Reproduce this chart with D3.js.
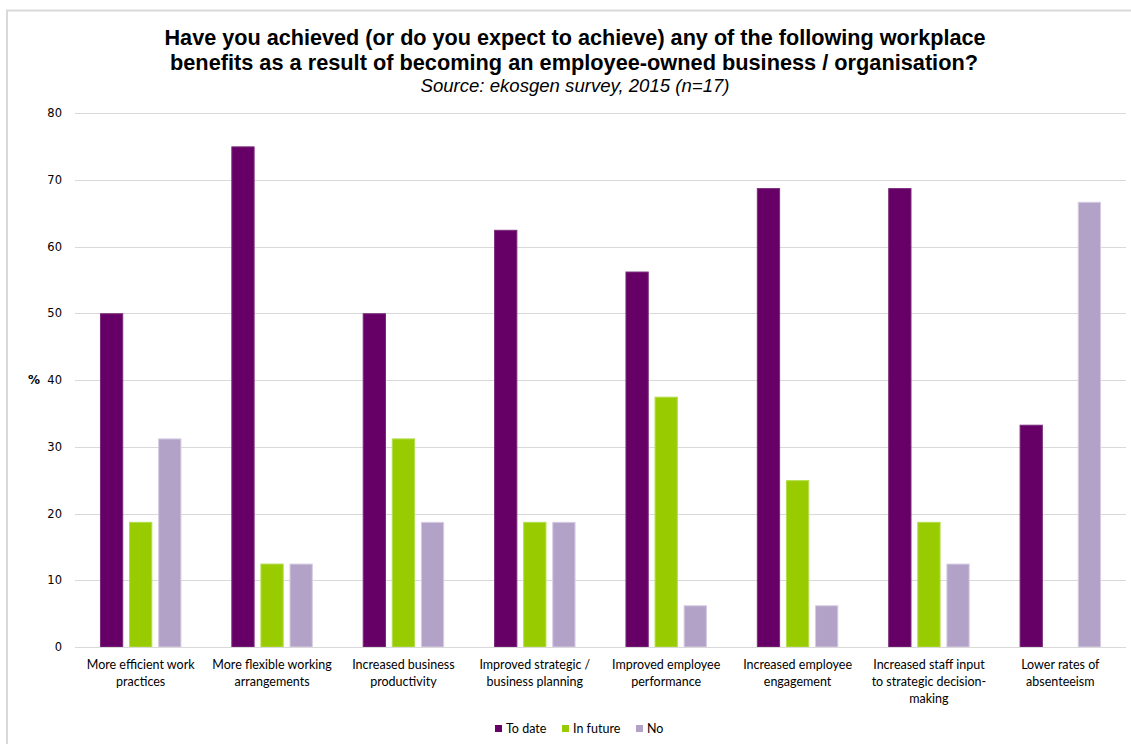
<!DOCTYPE html>
<html>
<head>
<meta charset="utf-8">
<script src="https://cdn.jsdelivr.net/npm/d3@7"></script>
<style>
  html, body { margin: 0; padding: 0; background: #fff; }
  svg { display: block; }
</style>
</head>
<body>
<svg id="chart" width="1131" height="744"></svg>
<script>
// Survey answers, % of respondents per benefit
const categories = [
  ["More efficient work", "practices"],
  ["More flexible working", "arrangements"],
  ["Increased business", "productivity"],
  ["Improved strategic /", "business planning"],
  ["Improved employee", "performance"],
  ["Increased employee", "engagement"],
  ["Increased staff input", "to strategic decision-", "making"],
  ["Lower rates of", "absenteeism"]
];
const seriesNames = ["To date", "In future", "No"];
const toDate   = [50, 75, 50, 62.5, 56.25, 68.75, 68.75, 33.3];
const inFuture = [18.75, 12.5, 31.25, 18.75, 37.5, 25, 18.75, 0];
const noValues = [31.25, 12.5, 18.75, 18.75, 6.25, 6.25, 12.5, 66.7];
const yTicks = [0, 10, 20, 30, 40, 50, 60, 70, 80];

const colors = ["#660066", "#99CC00", "#B3A2C7"];
const strokes = ["#7a2a7a", "#b3dd4d", "#d6cce3"];

const svg = d3.select("#chart");

// Chart area frame (top and left edges)
svg.append("path")
  .attr("d", "M7,744 V10.5 H1131")
  .attr("fill", "none")
  .attr("stroke", "#d9d9d9")
  .attr("stroke-width", 2);

// Titles
const titleFont = "Liberation Sans, Arial, sans-serif";
svg.append("text")
  .attr("x", 575).attr("y", 45)
  .attr("text-anchor", "middle")
  .attr("font-family", titleFont)
  .attr("font-weight", "bold").attr("font-size", 22)
  .attr("textLength", 821).attr("lengthAdjust", "spacingAndGlyphs")
  .attr("fill", "#000")
  .text("Have you achieved (or do you expect to achieve) any of the following workplace");
svg.append("text")
  .attr("x", 574).attr("y", 70)
  .attr("text-anchor", "middle")
  .attr("font-family", titleFont)
  .attr("font-weight", "bold").attr("font-size", 22)
  .attr("textLength", 808).attr("lengthAdjust", "spacingAndGlyphs")
  .attr("fill", "#000")
  .text("benefits as a result of becoming an employee-owned business / organisation?");
svg.append("text")
  .attr("x", 575).attr("y", 92)
  .attr("text-anchor", "middle")
  .attr("font-family", titleFont)
  .attr("font-style", "italic").attr("font-size", 18)
  .attr("textLength", 309).attr("lengthAdjust", "spacingAndGlyphs")
  .attr("fill", "#000")
  .text("Source: ekosgen survey, 2015 (n=17)");

const plotLeft = 75, plotRight = 1126, plotTop = 113, plotBottom = 647;

const y = d3.scaleLinear().domain([0, 80]).range([plotBottom, plotTop]);
const x0 = d3.scaleBand().domain(d3.range(categories.length)).range([plotLeft, plotRight]).padding(0);
const x1 = d3.scaleBand().domain(d3.range(seriesNames.length))
  .range([x0.bandwidth() * 0.19, x0.bandwidth() * 0.81]).paddingInner(0.2);

// Gridlines
svg.append("g")
  .selectAll("line")
  .data(yTicks)
  .join("line")
  .attr("x1", plotLeft).attr("x2", plotRight)
  .attr("y1", d => Math.round(y(d)) + 0.5).attr("y2", d => Math.round(y(d)) + 0.5)
  .attr("stroke", "#d9d9d9").attr("stroke-width", 1);

// Y axis labels
const yAxis = d3.axisLeft(y).tickValues(yTicks).tickSize(0).tickPadding(13);
const yg = svg.append("g").attr("transform", `translate(${plotLeft},0)`).call(yAxis);
yg.select(".domain").remove();
yg.selectAll("text")
  .attr("font-family", "DejaVu Sans, Verdana, sans-serif")
  .attr("font-size", 11.5)
  .attr("fill", "#000");

svg.append("text")
  .attr("x", 34).attr("y", 384)
  .attr("text-anchor", "middle")
  .attr("font-family", "DejaVu Sans, Verdana, sans-serif")
  .attr("font-weight", "bold").attr("font-size", 12)
  .text("%");

// Bars
const series = [toDate, inFuture, noValues];
const groups = svg.append("g")
  .selectAll("g")
  .data(categories.map((c, i) => i))
  .join("g")
  .attr("transform", i => `translate(${x0(i)},0)`);

groups.selectAll("rect")
  .data(i => series.map((s, k) => ({ k, v: s[i] })).filter(d => d.v > 0))
  .join("rect")
  .attr("x", d => x1(d.k) + 0.5)
  .attr("width", x1.bandwidth() - 1)
  .attr("y", d => y(d.v) + 0.5)
  .attr("height", d => y(0) - y(d.v) - 0.5)
  .attr("fill", d => colors[d.k])
  .attr("stroke", d => strokes[d.k])
  .attr("stroke-width", 1);

// Category axis line
svg.append("line")
  .attr("x1", plotLeft).attr("x2", plotRight)
  .attr("y1", plotBottom + 0.5).attr("y2", plotBottom + 0.5)
  .attr("stroke", "#d9d9d9").attr("stroke-width", 1);

// Category labels
const labelFont = "Lato, Open Sans, sans-serif";
groups.append("text")
  .attr("x", x0.bandwidth() / 2)
  .attr("text-anchor", "middle")
  .attr("font-family", labelFont)
  .attr("font-size", 12.5)
  .attr("fill", "#000")
  .selectAll("tspan")
  .data(i => categories[i])
  .join("tspan")
  .attr("x", x0.bandwidth() / 2)
  .attr("y", (d, j) => 669 + j * 17)
  .text(d => d);

// Legend
const legendX = [495, 562, 636];
const legend = svg.append("g")
  .selectAll("g")
  .data(seriesNames)
  .join("g")
  .attr("transform", (d, i) => `translate(${legendX[i]},725)`);
legend.append("rect")
  .attr("width", 7).attr("height", 7)
  .attr("fill", (d, i) => colors[i]);
legend.append("text")
  .attr("x", 11).attr("y", 8)
  .attr("font-family", labelFont)
  .attr("font-size", 12.5)
  .attr("fill", "#000")
  .text(d => d);
</script>
</body>
</html>
